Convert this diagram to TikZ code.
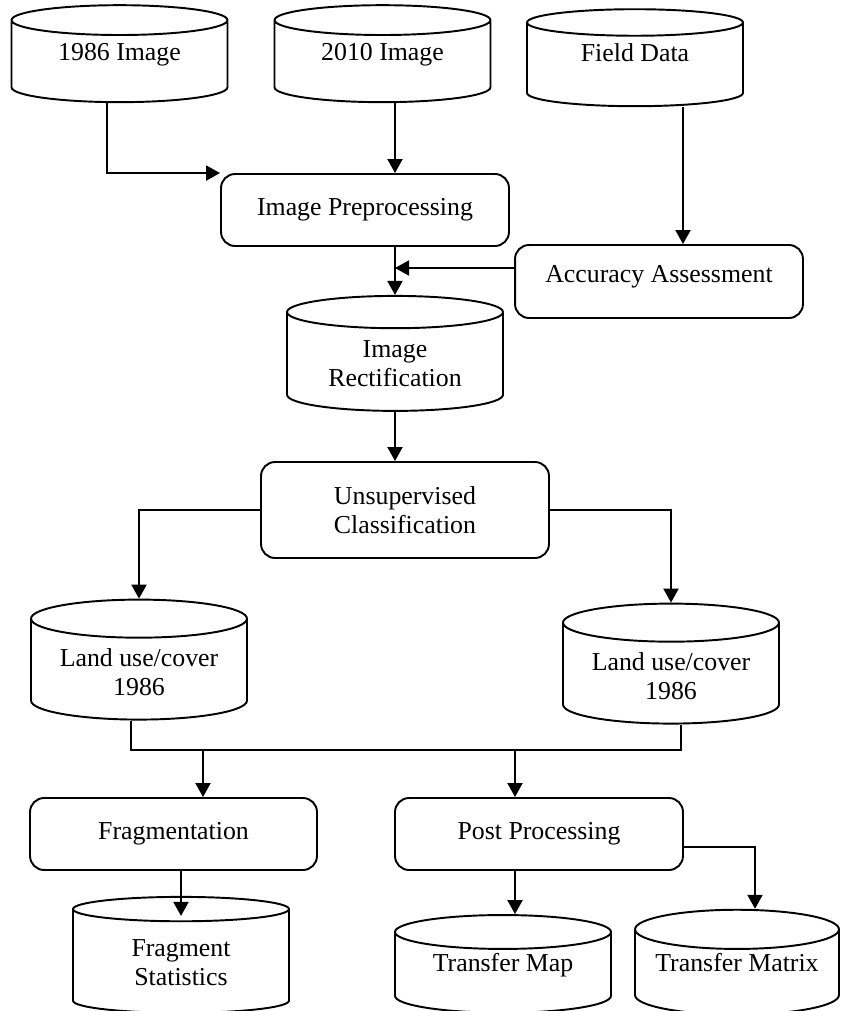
\documentclass[tikz,border=0pt]{standalone}
\usepackage{fontspec}
\setmainfont{Liberation Serif}
\usetikzlibrary{arrows.meta, positioning, shapes.geometric, calc}
\tikzset{
  every picture/.style={line width=1.1pt},
  every node/.style={font=\fontsize{14.7}{16.5}\selectfont},
  db/.style={draw, cylinder, shape border rotate=90, aspect=0.23, align=center, inner sep=2pt, minimum width=4.32cm, minimum height=#1},
  db/.default=1.94cm,
  lift/.style={text depth=#1},
  lift/.default=0.45cm,
  proc/.style={draw, rounded corners=8pt, align=center, minimum width=5.76cm, minimum height=#1},
  proc/.default=1.44cm,
  arrow/.style={-{Triangle[length=0.28cm, width=0.3cm]}},
}
\begin{document}
\begin{tikzpicture}[x=0.02cm, y=-0.02cm]
  \path[use as bounding box, clip] (0,0) rectangle (841,1011);
  % inputs
  \node[db, lift] (img86) at (119.5,63.5) {1986 Image};
  \node[db, lift] (img10) at (382.5,63.5) {2010 Image};
  \node[db, lift=0.55cm] (field) at (635,66.5) {Field Data};
  \node[proc] (prep) at (365,210) {Image Preprocessing};
  \node[proc=1.46cm, lift=0.3cm] (acc) at (659,281.5) {Accuracy Assessment};
  \node[db=2.3cm] (rect) at (395,364) {Image\\Rectification};
  \node[proc=1.92cm] (unsup) at (405,510) {Unsupervised\\Classification};
  % land use/cover maps
  \node[db=2.4cm] (lua) at (139,672) {Land use/cover\\1986};
  \node[db=2.4cm] (lub) at (671,676) {Land use/cover\\1986};
  \coordinate (bus) at (0,750);
  \node[proc, minimum width=5.74cm] (frag) at (173.5,834) {Fragmentation};
  \node[proc] (post) at (539,834) {Post Processing};
  % outputs
  \node[db=2.32cm] (fstat) at (181,963) {Fragment\\Statistics};
  \node[db=1.9cm, lift=0.5cm] (tmap) at (503,975) {Transfer Map};
  \node[db=1.9cm, lift=0.5cm, minimum width=4.08cm] (tmat) at (737,975) {Transfer Matrix};
  % connectors
  \draw[arrow] ([xshift=-0.25cm]img86.south) |- (prep.north west);
  \draw[arrow] (img10.south -| rect.north) -- (prep.north -| rect.north);
  \draw[arrow] ([xshift=0.96cm]field.south) -- ([xshift=0.96cm]field.south |- acc.north);
  \draw[arrow] (prep.south -| rect.north) -- (rect.north);
  \draw[arrow] ([yshift=0.27cm]acc.west) -- ([yshift=0.27cm]acc.west -| rect.north);
  \draw[arrow] (rect.south) -- (rect.south |- unsup.north);
  \draw[arrow] (unsup.west) -| (lua.north);
  \draw[arrow] (unsup.east) -| (lub.north);
  \draw ([xshift=-0.16cm]lua.south) |- ([xshift=0.2cm]lub.south |- bus) -- ([xshift=0.2cm]lub.south);
  \draw[arrow] (bus -| 203,0) -- (frag.north -| 203,0);
  \draw[arrow] (bus -| 515,0) -- (post.north -| 515,0);
  \draw[arrow] (frag.south -| fstat.north) -- ([yshift=-0.4cm]fstat.north);
  \draw[arrow] (post.south -| 515,0) -- (tmap.north -| 515,0);
  \draw[arrow] ([yshift=-0.26cm]post.east) -| ([xshift=0.36cm]tmat.north);
\end{tikzpicture}
\end{document}
